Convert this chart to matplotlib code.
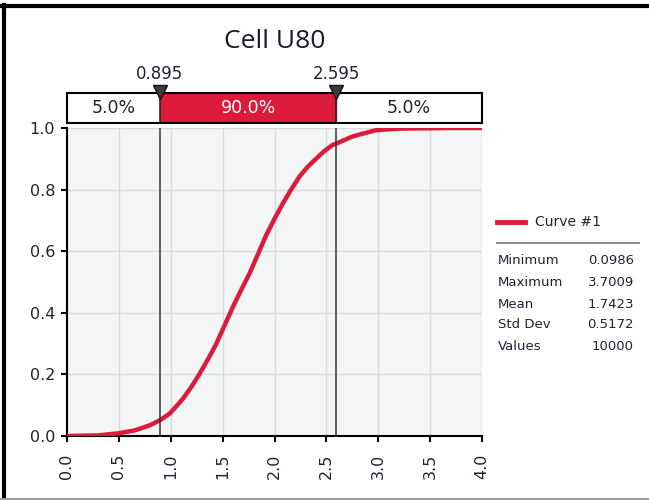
import matplotlib.pyplot as plt
from matplotlib.lines import Line2D

# values
x_vals = [0.0, 0.3, 0.5, 0.65, 0.8, 0.9, 0.99, 1.05, 1.12, 1.2, 1.28, 1.36,
          1.44, 1.52, 1.6, 1.68, 1.76, 1.84, 1.92, 2.0, 2.08, 2.16, 2.24, 2.32,
          2.4, 2.48, 2.56, 2.6, 2.68, 2.75, 2.82, 2.89, 2.98, 3.2, 3.7, 4.0]
cdf_vals = [0.0, 0.002, 0.009, 0.018, 0.035, 0.052, 0.073, 0.095, 0.122, 0.16,
            0.203, 0.25, 0.30, 0.36, 0.42, 0.475, 0.528, 0.59, 0.652, 0.705,
            0.755, 0.80, 0.842, 0.874, 0.90, 0.925, 0.945, 0.95, 0.962, 0.972,
            0.979, 0.985, 0.993, 0.998, 1.0, 1.0]

left_cut = 0.895
right_cut = 2.595
band_labels = ['5.0%', '90.0%', '5.0%']

stat_names = ['Minimum', 'Maximum', 'Mean', 'Std Dev', 'Values']
stat_values = ['0.0986', '3.7009', '1.7423', '0.5172', '10000']

x_ticks = [0.0, 0.5, 1.0, 1.5, 2.0, 2.5, 3.0, 3.5, 4.0]
y_ticks = [0.0, 0.2, 0.4, 0.6, 0.8, 1.0]

red = '#dc1a3c'
W, H = 649, 500

def fx(px):
    return px / W

def fy(py):
    return (H - py) / H

fig = plt.figure(figsize=(6.49, 5.0), dpi=100)

# main plot
ax = fig.add_axes([fx(67), fy(436), (482 - 67) / W, (436 - 128) / H])
ax.set_facecolor('#f4f6f5')
ax.plot(x_vals, cdf_vals, color=red, lw=3.2, solid_capstyle='butt', zorder=3)
ax.set_xlim(0, 4)
ax.set_ylim(0, 1.0)
ax.set_xticks(x_ticks)
ax.set_yticks(y_ticks)
ax.set_xticklabels(['%.1f' % t for t in x_ticks], rotation=90)
ax.set_yticklabels(['%.1f' % t for t in y_ticks])
ax.grid(True, color='#d9d9d9', lw=1)
ax.set_axisbelow(True)
for s in ['top', 'right']:
    ax.spines[s].set_visible(False)
for s in ['left', 'bottom']:
    ax.spines[s].set_linewidth(1.5)
ax.tick_params(length=4.5, width=1.5, labelsize=11.5, labelcolor='#222233')
ax.tick_params(axis='x', pad=8)
ax.tick_params(axis='y', pad=4)
ax.axvline(left_cut, color='#333333', lw=1.1, zorder=4)
ax.axvline(right_cut, color='#333333', lw=1.1, zorder=4)

# percentage band above the plot
bar = fig.add_axes([fx(67), fy(123), (482 - 67) / W, 30 / H])
bar.set_xlim(0, 4)
bar.set_ylim(0, 1)
bar.set_xticks([])
bar.set_yticks([])
for s in bar.spines.values():
    s.set_linewidth(1.5)
bar.axvspan(left_cut, right_cut, color=red)
bar.axvline(left_cut, color='#222222', lw=1.1)
bar.axvline(right_cut, color='#222222', lw=1.1)
centers = [left_cut / 2, (left_cut + right_cut) / 2, (right_cut + 4) / 2]
colors = ['#222233', 'white', '#222233']
for c, lab, col in zip(centers, band_labels, colors):
    bar.text(c, 0.5, lab, ha='center', va='center', fontsize=12.5, color=col)
for c in [left_cut, right_cut]:
    bar.plot([c], [1.02], marker='v', ms=10, color='#3c3c3c', mec='#111111',
             clip_on=False, zorder=5)
    bar.text(c, 1.62, '%.3f' % c, ha='center', va='center', fontsize=12,
             color='#222233', clip_on=False)

# title
fig.text(fx(275), fy(41), 'Cell U80', ha='center', va='center',
         fontsize=19, family='Open Sans', color='#1a1a2a')

# legend and stats
fig.add_artist(Line2D([fx(497), fx(525)], [fy(222), fy(222)], color=red, lw=3.5))
fig.text(fx(535), fy(222), 'Curve #1', ha='left', va='center', fontsize=10,
         color='#222233')
fig.add_artist(Line2D([fx(497), fx(639)], [fy(243), fy(243)], color='#777777', lw=1.2))
row_y = [261, 282, 304, 325, 346]
for yy, name, val in zip(row_y, stat_names, stat_values):
    fig.text(fx(498), fy(yy), name, ha='left', va='center', fontsize=9.5,
             color='#222233')
    fig.text(fx(634), fy(yy), val, ha='right', va='center', fontsize=9.5,
             color='#222233')

# outer frame
fig.add_artist(Line2D([fx(2), fx(649)], [fy(6), fy(6)], color='black', lw=3))
fig.add_artist(Line2D([fx(3.5), fx(3.5)], [fy(5), fy(500)], color='black', lw=3))
fig.add_artist(Line2D([0, 1], [fy(498.5), fy(498.5)], color='#999999', lw=1.5))

fig.savefig('out.png', dpi=100)
